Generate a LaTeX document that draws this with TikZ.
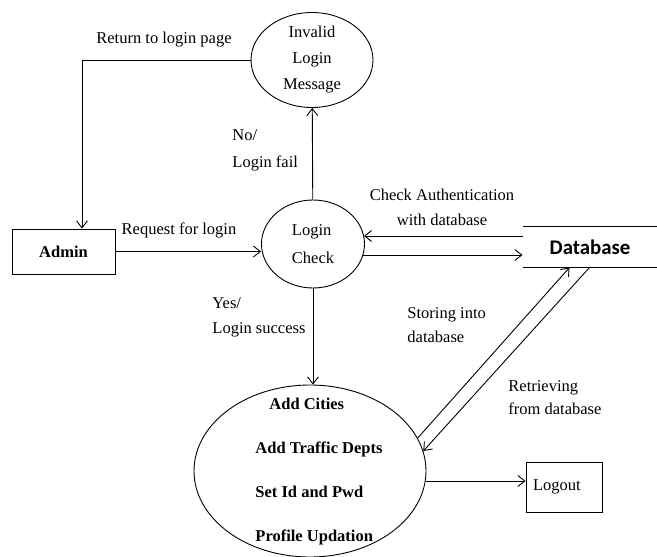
\documentclass[tikz,border=0pt]{standalone}
\usepackage{fontspec}
\setmainfont{Liberation Serif}
\newfontfamily\dbfont{Carlito}
\usetikzlibrary{arrows.meta,shapes.geometric}

\tikzset{
    proc/.style={draw, ellipse, inner sep=0pt},
    entity/.style={draw, rectangle, inner sep=0pt},
    lbl/.style={align=left, anchor=west, inner sep=0pt}
}

\begin{document}
\begin{tikzpicture}[x=1pt, y=-1pt, line width=0.9pt,
    font=\fontsize{16.5}{25}\selectfont,
    >={Straight Barb[length=7pt,width=11pt]}]
\useasboundingbox (0,0) rectangle (657,557);

% processes
\node[proc, minimum width=122, minimum height=95, align=center, font=\fontsize{16.5}{26}\selectfont] (invalid) at (312,60) {Invalid\\Login\\Message};
\node[proc, minimum width=103, minimum height=88, align=left, font=\fontsize{16.5}{28}\selectfont] (check) at (313,244) {Login\\Check};
\node[proc, minimum width=232, minimum height=172] (work) at (310,471) {};
\node[lbl, font=\bfseries\fontsize{16.5}{44}\selectfont] (tasks) at (255,472) {\hspace*{14pt}Add Cities\\Add Traffic Depts\\Set Id and Pwd\\Profile Updation};

% entities and store
\node[entity, minimum width=103, minimum height=45, font=\bfseries\fontsize{16.5}{25}\selectfont] (admin) at (63.5,251.5) {Admin};
\node[entity, text width=62pt, inner xsep=7pt, minimum height=50, align=left] (logout) at (564,487) {Logout};
\node[minimum width=134, minimum height=40, inner sep=0pt, font=\dbfont\bfseries\fontsize{20.8}{25}\selectfont] (db) at (590,247) {Database};
\draw (db.north west) -- (db.north east) (db.south west) -- (db.south east);

% flows
\draw[->] (admin.east) -- (admin.east -| check.west);
\node (req) at (179,230) {Request for login};
\draw[->] (check) -- (invalid);
\node[lbl, font=\fontsize{16.5}{27}\selectfont] (fail) at (232,150) {No/\\Login fail};
\draw[->] (invalid.west) -| ([xshift=18.5pt]admin.north);
\node (ret) at (164,40) {Return to login page};
\draw[->] (check) -- (check |- work.north);
\node[lbl] (succ) at (212,317) {Yes/\\Login success};
\draw[->] ([yshift=11pt]db.west) -- ([xshift=-1pt,yshift=8pt]check.east);
\draw[->] ([xshift=-2pt,yshift=-11pt]check.east) -- ([yshift=-8pt]db.west);
\node[align=center] (auth) at (442,207) {Check Authentication\\with database};
\draw[->] (work.17) -- ([xshift=47pt]db.south west);
\draw[->] ([xshift=67pt]db.south west) -- (work.10);
\node[lbl, font=\fontsize{16.5}{24}\selectfont] (store) at (407,325) {Storing into\\database};
\node[lbl, font=\fontsize{16.5}{23}\selectfont] (fetch) at (508,398) {Retrieving\\from database};
\draw[->] ([yshift=-10pt]work.east) -- ([yshift=6pt]logout.west); % to logout

\end{tikzpicture}
\end{document}
